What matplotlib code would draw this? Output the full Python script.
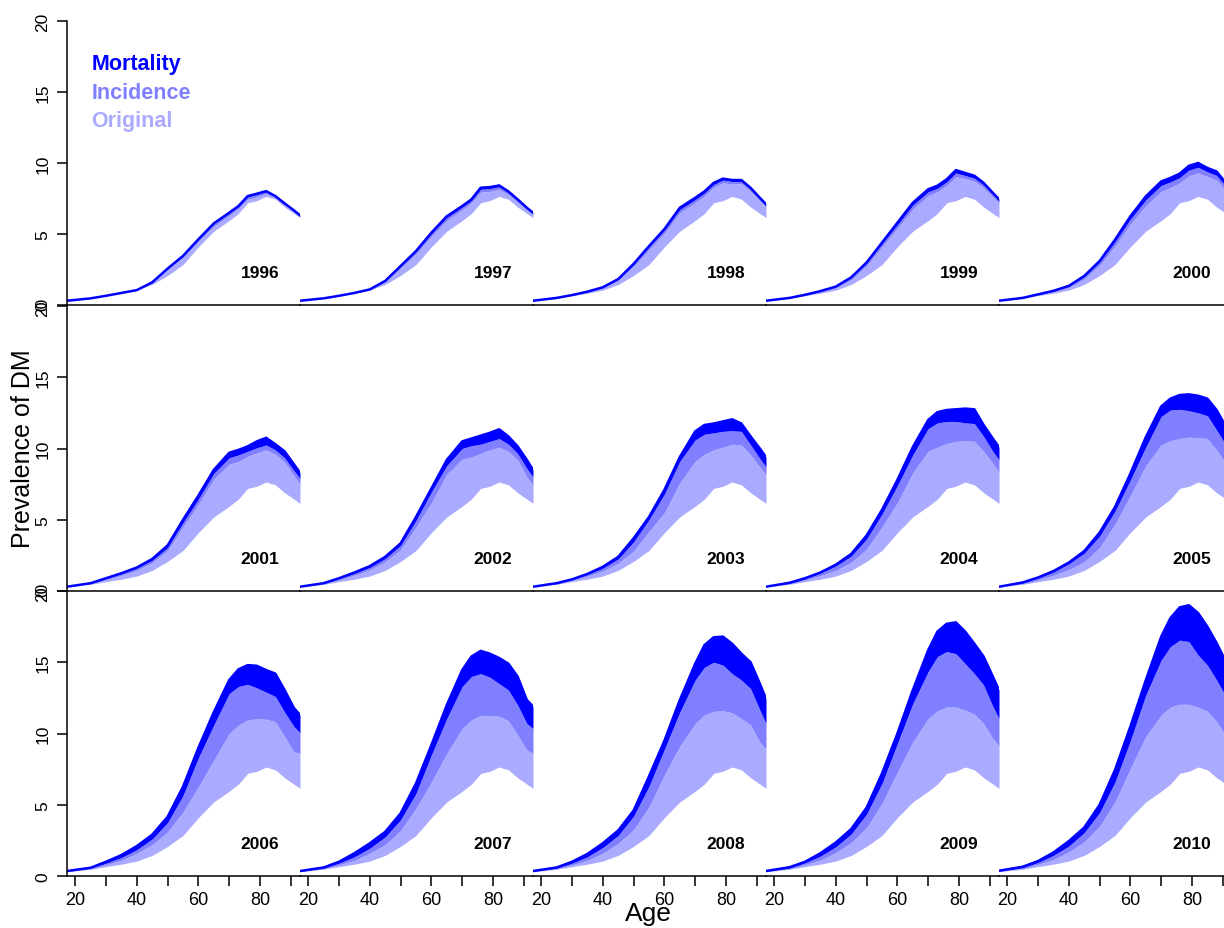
import numpy as np
import matplotlib
matplotlib.use("Agg")
import matplotlib.pyplot as plt

plt.rcParams['font.family'] = ['Liberation Sans', 'DejaVu Sans']

ages = [17.3, 25, 30, 35, 40, 45, 50, 55, 60, 65, 70, 73, 76, 79, 82, 85, 88, 91, 93]

# baseline prevalence (white area below it), same in every panel
baseline = [0.30, 0.47, 0.66, 0.83, 1.05, 1.45, 2.08, 2.85, 4.1, 5.2, 5.95, 6.45, 7.2, 7.35, 7.65, 7.45, 6.9, 6.45, 6.15]

years = list(range(1996, 2011))

original = {
	1996: [0.30, 0.47, 0.65, 0.85, 1.05, 1.58, 2.5, 3.35, 4.5, 5.55, 6.3, 6.8, 7.45, 7.62, 7.85, 7.55, 7.02, 6.55, 6.22],
	1997: [0.30, 0.47, 0.65, 0.85, 1.08, 1.62, 2.6, 3.6, 4.85, 5.95, 6.7, 7.2, 7.95, 8.0, 8.15, 7.78, 7.25, 6.7, 6.38],
	1998: [0.30, 0.49, 0.68, 0.9, 1.18, 1.72, 2.72, 3.9, 5.05, 6.5, 7.2, 7.68, 8.28, 8.6, 8.52, 8.55, 8.0, 7.35, 6.92],
	1999: [0.30, 0.49, 0.69, 0.92, 1.2, 1.78, 2.78, 4.1, 5.4, 6.75, 7.7, 7.97, 8.42, 9.02, 8.9, 8.72, 8.25, 7.6, 7.18],
	2000: [0.30, 0.49, 0.7, 0.93, 1.23, 1.84, 2.8, 4.15, 5.7, 7.0, 8.0, 8.27, 8.6, 9.1, 9.3, 9.05, 8.8, 8.05, 7.6],
	2001: [0.30, 0.5, 0.8, 1.1, 1.45, 2.0, 2.85, 4.5, 6.1, 7.85, 8.9, 9.1, 9.45, 9.7, 9.9, 9.6, 9.05, 8.1, 7.5],
	2002: [0.30, 0.5, 0.78, 1.1, 1.48, 2.05, 2.9, 4.5, 6.2, 8.2, 9.25, 9.4, 9.65, 9.9, 10.1, 9.8, 9.2, 8.0, 7.45],
	2003: [0.30, 0.5, 0.75, 1.05, 1.4, 1.95, 2.8, 4.2, 5.5, 7.6, 9.1, 9.6, 9.9, 10.1, 10.3, 10.25, 9.55, 8.7, 8.15],
	2004: [0.30, 0.5, 0.77, 1.08, 1.45, 2.0, 2.95, 4.5, 6.2, 8.3, 9.8, 10.1, 10.35, 10.5, 10.55, 10.5, 9.8, 8.95, 8.35],
	2005: [0.30, 0.5, 0.78, 1.1, 1.5, 2.05, 3.05, 4.7, 6.7, 8.8, 10.25, 10.55, 10.7, 10.8, 10.75, 10.7, 9.9, 8.95, 8.4],
	2006: [0.32, 0.5, 0.8, 1.1, 1.6, 2.2, 3.1, 4.5, 6.27, 8.14, 10.0, 10.6, 10.95, 11.04, 11.0, 10.83, 9.78, 8.73, 8.6],
	2007: [0.32, 0.5, 0.78, 1.1, 1.6, 2.2, 3.2, 4.75, 6.6, 8.6, 10.35, 10.95, 11.27, 11.27, 11.2, 10.9, 9.9, 8.85, 8.6],
	2008: [0.32, 0.5, 0.78, 1.1, 1.6, 2.3, 3.25, 4.85, 7.1, 9.1, 10.7, 11.3, 11.55, 11.6, 11.45, 11.05, 10.6, 9.4, 8.9],
	2009: [0.32, 0.5, 0.8, 1.12, 1.65, 2.35, 3.4, 5.1, 7.3, 9.4, 11.05, 11.6, 11.85, 11.85, 11.65, 11.35, 10.7, 9.65, 9.1],
	2010: [0.33, 0.52, 0.82, 1.15, 1.7, 2.4, 3.5, 5.2, 7.55, 9.8, 11.3, 11.85, 12.05, 12.05, 11.85, 11.55, 10.85, 9.8, 9.25],
}

incidence = {
	1996: [0.30, 0.47, 0.65, 0.85, 1.05, 1.6, 2.55, 3.43, 4.58, 5.7, 6.45, 6.92, 7.6, 7.78, 7.96, 7.62, 7.1, 6.62, 6.28],
	1997: [0.30, 0.47, 0.65, 0.85, 1.1, 1.68, 2.7, 3.75, 5.0, 6.15, 6.88, 7.35, 8.15, 8.2, 8.32, 7.9, 7.35, 6.78, 6.44],
	1998: [0.30, 0.5, 0.7, 0.93, 1.23, 1.8, 2.85, 4.08, 5.25, 6.72, 7.42, 7.88, 8.48, 8.8, 8.7, 8.7, 8.15, 7.47, 7.03],
	1999: [0.30, 0.5, 0.71, 0.96, 1.27, 1.9, 2.93, 4.3, 5.65, 7.03, 7.97, 8.22, 8.67, 9.3, 9.12, 8.93, 8.45, 7.77, 7.34],
	2000: [0.30, 0.5, 0.74, 0.98, 1.31, 1.98, 3.0, 4.45, 6.05, 7.4, 8.42, 8.67, 8.97, 9.5, 9.7, 9.38, 9.12, 8.36, 7.88],
	2001: [0.30, 0.53, 0.87, 1.2, 1.6, 2.15, 3.05, 4.8, 6.45, 8.25, 9.35, 9.55, 9.8, 10.05, 10.25, 9.9, 9.35, 8.45, 7.9],
	2002: [0.30, 0.53, 0.86, 1.23, 1.65, 2.28, 3.2, 4.95, 6.95, 8.8, 10.0, 10.2, 10.3, 10.5, 10.7, 10.3, 9.65, 8.6, 8.0],
	2003: [0.30, 0.53, 0.8, 1.15, 1.6, 2.25, 3.45, 5.0, 6.8, 9.1, 10.6, 11.0, 11.1, 11.2, 11.25, 11.2, 10.25, 9.3, 8.7],
	2004: [0.30, 0.55, 0.85, 1.25, 1.75, 2.45, 3.65, 5.4, 7.4, 9.55, 11.4, 11.8, 11.9, 11.9, 11.8, 11.75, 10.85, 9.8, 9.2],
	2005: [0.30, 0.57, 0.9, 1.32, 1.9, 2.65, 3.85, 5.6, 7.8, 10.1, 12.25, 12.7, 12.75, 12.65, 12.5, 12.3, 11.3, 10.25, 9.7],
	2006: [0.33, 0.55, 0.9, 1.3, 1.85, 2.6, 3.75, 5.65, 8.3, 10.6, 12.8, 13.3, 13.45, 13.2, 12.9, 12.6, 11.5, 10.5, 10.05],
	2007: [0.33, 0.55, 0.9, 1.35, 1.95, 2.75, 3.95, 5.8, 8.5, 11.05, 13.3, 14.0, 14.2, 13.95, 13.5, 13.05, 12.0, 10.7, 10.35],
	2008: [0.33, 0.55, 0.9, 1.35, 2.0, 2.85, 4.2, 6.3, 8.9, 11.5, 13.75, 14.65, 15.0, 14.8, 14.2, 13.75, 13.15, 11.65, 10.7],
	2009: [0.33, 0.56, 0.92, 1.4, 2.05, 2.95, 4.35, 6.5, 9.3, 12.1, 14.35, 15.4, 15.75, 15.6, 14.9, 14.2, 13.4, 11.9, 11.05],
	2010: [0.35, 0.58, 0.95, 1.45, 2.1, 3.05, 4.45, 6.6, 9.5, 12.7, 15.15, 16.1, 16.55, 16.45, 15.5, 14.8, 13.75, 12.6, 11.9],
}

mortality = {
	1996: [0.30, 0.47, 0.65, 0.85, 1.05, 1.6, 2.57, 3.46, 4.63, 5.75, 6.5, 6.97, 7.67, 7.84, 8.02, 7.67, 7.16, 6.67, 6.32],
	1997: [0.30, 0.47, 0.65, 0.85, 1.1, 1.7, 2.75, 3.8, 5.1, 6.25, 6.97, 7.44, 8.26, 8.3, 8.42, 8.0, 7.44, 6.85, 6.5],
	1998: [0.30, 0.5, 0.7, 0.94, 1.25, 1.83, 2.9, 4.15, 5.35, 6.85, 7.55, 8.0, 8.6, 8.9, 8.8, 8.8, 8.25, 7.55, 7.1],
	1999: [0.30, 0.5, 0.72, 0.98, 1.3, 1.95, 3.0, 4.4, 5.8, 7.2, 8.15, 8.4, 8.85, 9.5, 9.3, 9.1, 8.6, 7.9, 7.45],
	2000: [0.30, 0.5, 0.75, 1.0, 1.35, 2.05, 3.1, 4.6, 6.25, 7.65, 8.7, 8.95, 9.25, 9.8, 10.0, 9.65, 9.4, 8.6, 8.1],
	2001: [0.30, 0.55, 0.9, 1.25, 1.65, 2.25, 3.2, 5.0, 6.7, 8.5, 9.7, 9.9, 10.15, 10.5, 10.75, 10.3, 9.8, 8.9, 8.3],
	2002: [0.30, 0.55, 0.9, 1.3, 1.75, 2.4, 3.35, 5.2, 7.2, 9.2, 10.5, 10.7, 10.9, 11.1, 11.35, 10.85, 10.15, 9.2, 8.5],
	2003: [0.30, 0.55, 0.82, 1.2, 1.7, 2.4, 3.7, 5.2, 7.1, 9.4, 11.2, 11.65, 11.75, 11.9, 12.05, 11.75, 10.85, 10.0, 9.4],
	2004: [0.30, 0.58, 0.9, 1.3, 1.85, 2.6, 3.9, 5.7, 7.8, 10.1, 12.0, 12.55, 12.7, 12.75, 12.8, 12.75, 11.65, 10.7, 10.1],
	2005: [0.30, 0.6, 0.95, 1.4, 2.0, 2.8, 4.1, 5.9, 8.25, 10.8, 12.95, 13.5, 13.75, 13.8, 13.7, 13.5, 12.7, 11.55, 10.9],
	2006: [0.35, 0.58, 1.0, 1.47, 2.1, 2.9, 4.16, 6.27, 9.0, 11.5, 13.75, 14.5, 14.8, 14.75, 14.45, 14.2, 13.05, 11.8, 11.3],
	2007: [0.35, 0.6, 1.0, 1.6, 2.3, 3.1, 4.4, 6.5, 9.2, 12.0, 14.45, 15.4, 15.8, 15.6, 15.3, 14.9, 14.0, 12.35, 11.9],
	2008: [0.35, 0.6, 1.0, 1.55, 2.3, 3.2, 4.6, 7.0, 9.5, 12.35, 14.9, 16.2, 16.75, 16.8, 16.3, 15.6, 15.0, 13.5, 12.45],
	2009: [0.35, 0.62, 1.0, 1.6, 2.35, 3.3, 4.8, 7.2, 10.0, 13.05, 15.85, 17.15, 17.7, 17.8, 17.15, 16.3, 15.4, 14.0, 13.05],
	2010: [0.37, 0.65, 1.05, 1.65, 2.45, 3.4, 5.0, 7.45, 10.5, 13.75, 16.8, 18.1, 18.85, 19.0, 18.45, 17.5, 16.35, 15.05, 14.2],
}

col_orig = '#AAAAFF'
col_inc = '#8080FF'
col_mort = '#0000FF'

fig = plt.figure(figsize=(12.24, 9.29), dpi=100)
W, H = 1224.0, 929.0

#panel geometry in pixels
left0, pw = 67, 233
top0, ph = 22, 285

for k, yr in enumerate(years):
	r, c = k // 5, k % 5
	x0 = left0 + c * pw
	y1 = top0 + r * ph + (ph if r > 0 else 284)
	ax = fig.add_axes([x0 / W, 1 - y1 / H, pw / W, (284 if r == 0 else ph) / H])
	ax.set_xlim(17.3, 93)
	ax.set_ylim(0, 20)
	ax.patch.set_alpha(0)

	ax.fill_between(ages, baseline, original[yr], color=col_orig, lw=0)
	ax.fill_between(ages, original[yr], incidence[yr], color=col_inc, lw=0)
	ax.fill_between(ages, incidence[yr], mortality[yr], color=col_mort, lw=0)
	ax.plot(ages, mortality[yr], color=col_mort, lw=1.8, solid_joinstyle='round')

	ax.text(80, 2.3, str(yr), ha='center', va='center', fontsize=12.5, fontweight='bold')

	for s in ['top', 'right']:
		ax.spines[s].set_visible(False)
	ax.spines['bottom'].set_linewidth(1.1)
	ax.spines['left'].set_linewidth(1.1)
	if c != 0:
		ax.spines['left'].set_visible(False)
		ax.set_yticks([])
	else:
		ax.set_yticks([0, 5, 10, 15, 20])
		ax.set_yticklabels(['0', '5', '10', '15', '20'], rotation=90, va='center', fontsize=12.5)
		ax.tick_params(axis='y', length=7, width=1.1, pad=5)

	if r == 2:
		ax.set_xticks(range(20, 91, 10))
		ax.set_xticklabels(['20', '', '40', '', '60', '', '80', ''], fontsize=13)
		ax.tick_params(axis='x', length=7, width=1.1, pad=4)
	else:
		ax.set_xticks([])

	if k == 0:
		ax.text(25.2, 17.0, 'Mortality', color=col_mort, fontsize=15.5, fontweight='bold', va='center')
		ax.text(25.2, 14.95, 'Incidence', color=col_inc, fontsize=15.5, fontweight='bold', va='center')
		ax.text(25.2, 13.0, 'Original', color=col_orig, fontsize=15.5, fontweight='bold', va='center')

fig.text(23 / W, 1 - 449 / H, 'Prevalence of DM', rotation=90, ha='center', va='center', fontsize=18)
fig.text(648 / W, 1 - 914 / H, 'Age', ha='center', va='center', fontsize=19)

fig.savefig('out.png', dpi=100)
